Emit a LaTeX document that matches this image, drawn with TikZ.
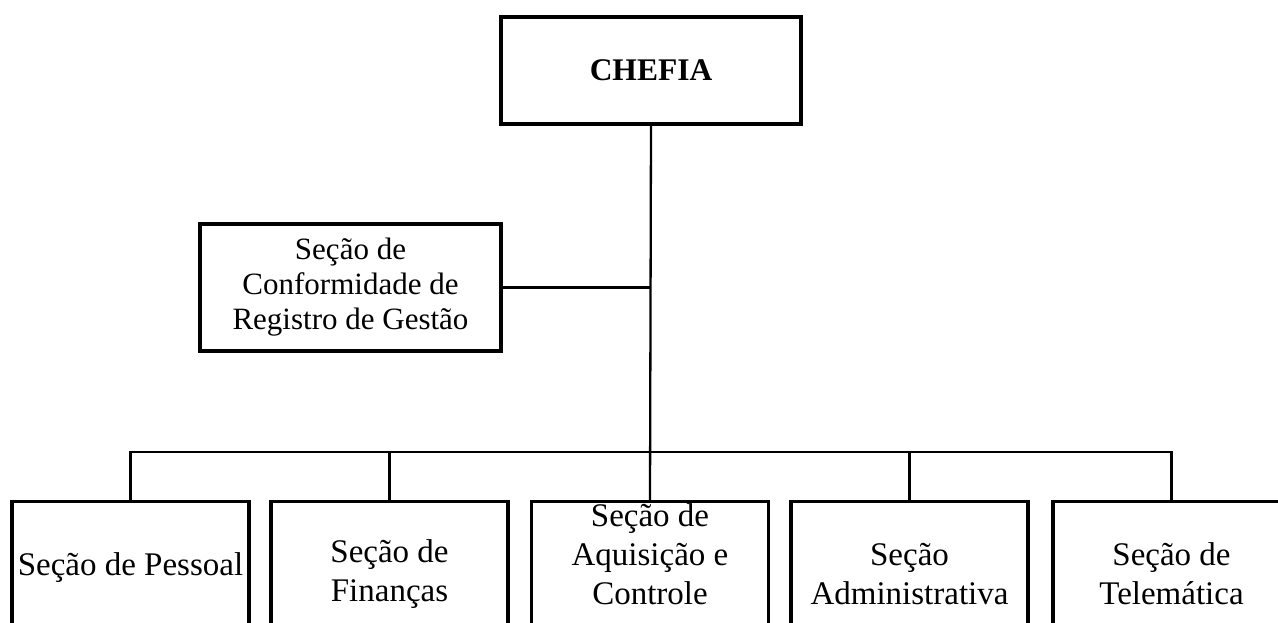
\documentclass[tikz,border=0pt]{standalone}
\usepackage{fontspec}
\setmainfont{Liberation Serif}
\begin{document}
\begin{tikzpicture}[x=1pt,y=-1pt,
  box/.style={draw=black, line width=3.2pt, rectangle, inner sep=0pt},
  conn/.style={draw=black, line width=2.3pt},
  txt/.style={align=center, font=\fontsize{33}{39}\selectfont, inner sep=0pt},
  secbox/.style={box, minimum width=237pt, minimum height=200pt, anchor=north}]
\useasboundingbox (0,0) rectangle (1278,623);
\fill[white] (0,0) rectangle (1278,623);
\clip (0,0) rectangle (1278,623);
% top boxes
\node[box, minimum width=300pt, minimum height=107pt,
      font=\fontsize{31.5}{36}\selectfont\bfseries] (chefia) at (651,70.5) {CHEFIA};
\node[box, minimum width=301pt, minimum height=127pt, align=center,
      font=\fontsize{31}{35}\selectfont] (conf) at (350.5,287.5)
      {Seção de\\Conformidade de\\Registro de Gestão};
% bottom boxes
\node[secbox] (pes) at (130.5,500) {};
\node[secbox] (fin) at (389.5,500) {};
\node[secbox] (aq)  at (650,500) {};
\node[secbox] (adm) at (909.5,500) {};
\node[secbox] (tel) at (1171.5,500) {};
\node[txt] (tpes) at (pes.north |- 0,568) {Seção de Pessoal};
\node[txt] (tfin) at (fin.north |- 0,574) {Seção de\\Finanças};
\node[txt] (taq)  at (aq.north |- 0,554) {Seção de\\Aquisição e\\Controle};
\node[txt] (tadm) at (adm.north |- 0,574) {Seção\\Administrativa};
\node[txt] (ttel) at (tel.north |- 0,574) {Seção de\\Telemática};
% connectors
\coordinate (busy) at (0,452);
\draw[conn] (chefia.south) -- (aq.north);
\draw[conn] (conf.east) -- (conf.east -| chefia.south);
\draw[conn] (pes.north) -- (pes.north |- busy) -- (tel.north |- busy) -- (tel.north);
\draw[conn] (fin.north) -- (fin.north |- busy);
\draw[conn] (adm.north) -- (adm.north |- busy);
\end{tikzpicture}
\end{document}
